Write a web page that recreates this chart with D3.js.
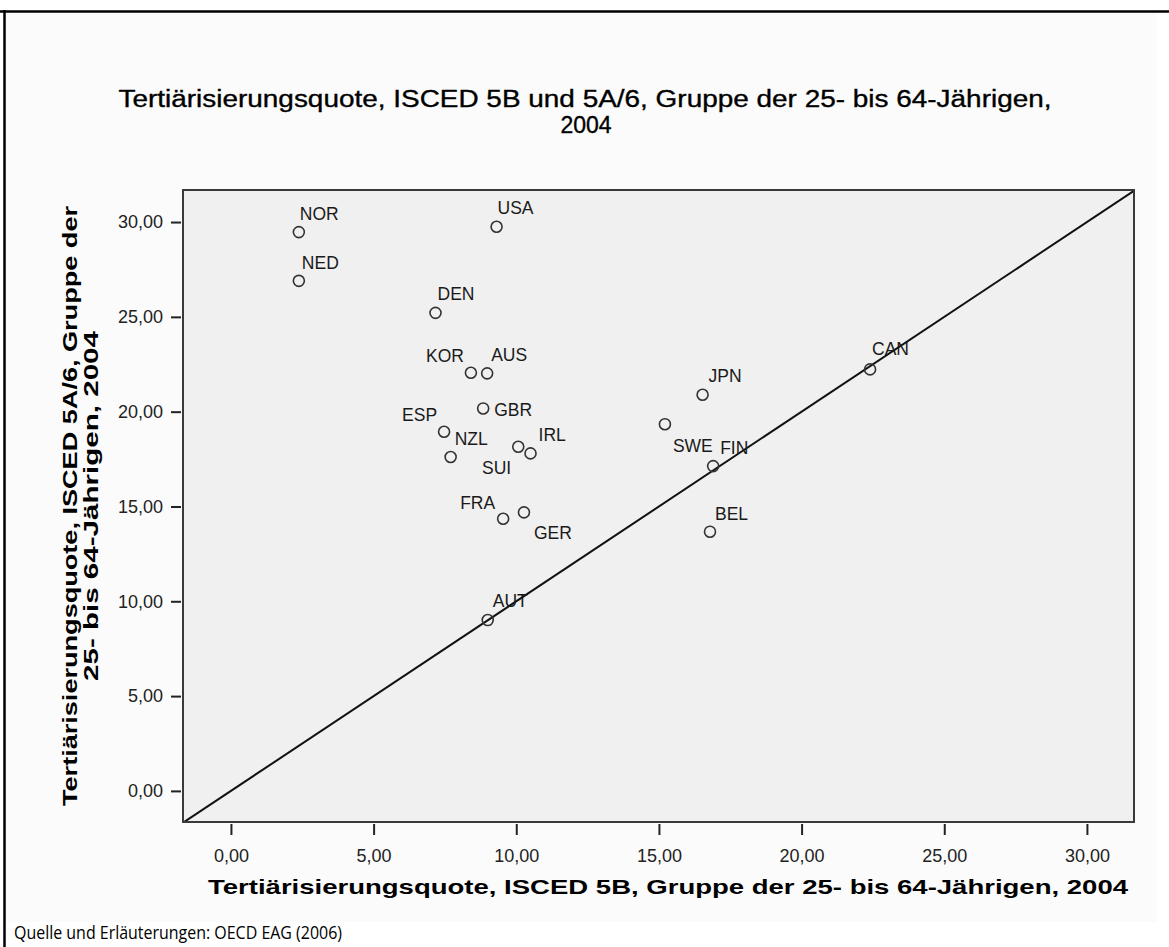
<!DOCTYPE html>
<html><head><meta charset="utf-8">
<script src="https://cdn.jsdelivr.net/npm/d3@7"></script>
<style>html,body{margin:0;padding:0;background:#fff;}svg{display:block;}</style>
</head><body>
<script>
// ---- data ----
const countries = ["NOR","USA","NED","DEN","KOR","AUS","GBR","ESP","NZL","SUI","IRL","FRA","GER","AUT","SWE","JPN","FIN","BEL","CAN"];
const isced5B   = [2.38, 9.31, 2.38, 7.17, 8.41, 8.98, 8.84, 7.47, 7.70, 10.07, 10.50, 9.54, 10.27, 9.00, 15.21, 16.53, 16.90, 16.79, 22.40];
const isced5A6  = [29.47, 29.75, 26.90, 25.21, 22.05, 22.02, 20.17, 18.94, 17.61, 18.15, 17.80, 14.35, 14.69, 9.01, 19.34, 20.89, 17.13, 13.67, 22.23];
const tickValues = [0, 5, 10, 15, 20, 25, 30];
const titleLines = ["Tertiärisierungsquote, ISCED 5B und 5A/6, Gruppe der 25- bis 64-Jährigen,", "2004"];
const xTitle = "Tertiärisierungsquote, ISCED 5B, Gruppe der 25- bis 64-Jährigen, 2004";
const yTitleLines = ["Tertiärisierungsquote, ISCED 5A/6, Gruppe der", "25- bis 64-Jährigen, 2004"];
const sourceText = "Quelle und Erläuterungen: OECD EAG (2006)";

// label placement (layout only): [dx, dy, anchor]
const labelPlacement = {
  NOR:[1,-12,"start"], USA:[1,-13,"start"], NED:[3,-12,"start"], DEN:[2,-13,"start"],
  KOR:[-7,-11,"end"], AUS:[4,-12,"start"], GBR:[11,8,"start"], ESP:[-7,-11,"end"],
  NZL:[4,-12,"start"], SUI:[-7,27,"end"], IRL:[8,-12,"start"], FRA:[-8,-10,"end"],
  GER:[10,27,"start"], AUT:[5,-13,"start"], SWE:[8,28,"start"], JPN:[6,-13,"start"],
  FIN:[7,-12,"start"], BEL:[5,-12,"start"], CAN:[2,-14,"start"]
};

const W = 1169, H = 947;
const FONT = "'Liberation Sans', Arial, sans-serif";
const svg = d3.select("body").append("svg").attr("width", W).attr("height", H);

// background of chart frame
svg.append("rect").attr("x", 6).attr("y", 12).attr("width", 1151).attr("height", 910).attr("fill", "#fbfbfb");
// outer frame lines (top + left)
svg.append("line").attr("x1", 0).attr("x2", W).attr("y1", 11.5).attr("y2", 11.5).attr("stroke", "#000").attr("stroke-width", 2.5);
svg.append("line").attr("x1", 4.5).attr("x2", 4.5).attr("y1", 10).attr("y2", H).attr("stroke", "#000").attr("stroke-width", 2.5);

const plot = {left: 183, right: 1134, top: 190, bottom: 822};
const x = d3.scaleLinear().domain([-1.68, 31.65]).range([plot.left, plot.right]);
const y = d3.scaleLinear().domain([-1.64, 31.69]).range([plot.bottom, plot.top]);
const fmt = v => d3.format(".2f")(v).replace(".", ",");

// plot background
svg.append("rect").attr("x", plot.left).attr("y", plot.top)
  .attr("width", plot.right - plot.left).attr("height", plot.bottom - plot.top)
  .attr("fill", "#f0f0f0");

svg.append("clipPath").attr("id", "clip").append("rect")
  .attr("x", plot.left).attr("y", plot.top)
  .attr("width", plot.right - plot.left).attr("height", plot.bottom - plot.top);

// reference diagonal y = x
const diag = [-2, 32];
svg.append("line").attr("clip-path", "url(#clip)")
  .attr("x1", x(diag[0])).attr("y1", y(diag[0]))
  .attr("x2", x(diag[1])).attr("y2", y(diag[1]))
  .attr("stroke", "#111").attr("stroke-width", 2);

// plot frame
svg.append("rect").attr("x", plot.left).attr("y", plot.top)
  .attr("width", plot.right - plot.left).attr("height", plot.bottom - plot.top)
  .attr("fill", "none").attr("stroke", "#3a3a3a").attr("stroke-width", 2);

// axes
const xAxis = svg.append("g").attr("transform", `translate(0,${plot.bottom + 2})`)
  .call(d3.axisBottom(x).tickValues(tickValues).tickFormat(fmt).tickSize(11).tickPadding(14));
const yAxis = svg.append("g").attr("transform", `translate(${plot.left - 2},0)`)
  .call(d3.axisLeft(y).tickValues(tickValues).tickFormat(fmt).tickSize(10).tickPadding(8));
[xAxis, yAxis].forEach(g => {
  g.select(".domain").remove();
  g.selectAll(".tick line").attr("stroke", "#222").attr("stroke-width", 2);
  g.selectAll(".tick text").attr("fill", "#222").style("font-family", FONT).style("font-size", "18px");
});

// points
const pts = countries.map((c, i) => ({c, xv: isced5B[i], yv: isced5A6[i]}));
svg.append("g").selectAll("circle").data(pts).join("circle")
  .attr("cx", d => x(d.xv)).attr("cy", d => y(d.yv)).attr("r", 5.5)
  .attr("fill", "none").attr("stroke", "#333").attr("stroke-width", 1.6);
svg.append("g").selectAll("text").data(pts).join("text")
  .attr("x", d => x(d.xv) + labelPlacement[d.c][0])
  .attr("y", d => y(d.yv) + labelPlacement[d.c][1])
  .attr("text-anchor", d => labelPlacement[d.c][2])
  .style("font-family", FONT).style("font-size", "17.5px").attr("fill", "#1a1a1a")
  .text(d => d.c);

// helper: text with fixed size adjusted to a target length
function sized(parent, txt, size, len, attrs, bold, weightStroke) {
  const t = parent.append("text").attr("text-anchor", "middle")
    .style("font-family", FONT).style("font-size", size + "px")
    .style("font-weight", bold ? "bold" : "normal").attr("fill", "#000")
    .attr("textLength", len).attr("lengthAdjust", "spacingAndGlyphs").text(txt);
  if (weightStroke) t.attr("stroke", "#000").attr("stroke-width", weightStroke);
  Object.entries(attrs).forEach(([k, v]) => t.attr(k, v));
  return t;
}

// title
sized(svg, titleLines[0], 23, 933, {x: 585, y: 107}, false, 0.35);
svg.append("text").attr("x", 586).attr("y", 133).attr("text-anchor", "middle")
  .style("font-family", FONT).style("font-size", "23px").attr("fill", "#000")
  .attr("stroke", "#000").attr("stroke-width", 0.35).text(titleLines[1]);

// x title
sized(svg, xTitle, 21, 920, {x: 668, y: 894}, true);

// y title
const yc = (plot.top + plot.bottom) / 2;
sized(svg, yTitleLines[0], 20, 600, {transform: `translate(77,${yc}) rotate(-90)`}, true);
sized(svg, yTitleLines[1], 20, 350, {transform: `translate(98,${yc}) rotate(-90)`}, true);

// source
svg.append("text").attr("x", 14).attr("y", 939)
  .style("font-family", "'Liberation Sans Narrow', 'Open Sans', sans-serif").style("font-size", "18.5px")
  .attr("textLength", 328).attr("lengthAdjust", "spacingAndGlyphs")
  .attr("fill", "#000").text(sourceText);
</script>
</body></html>
